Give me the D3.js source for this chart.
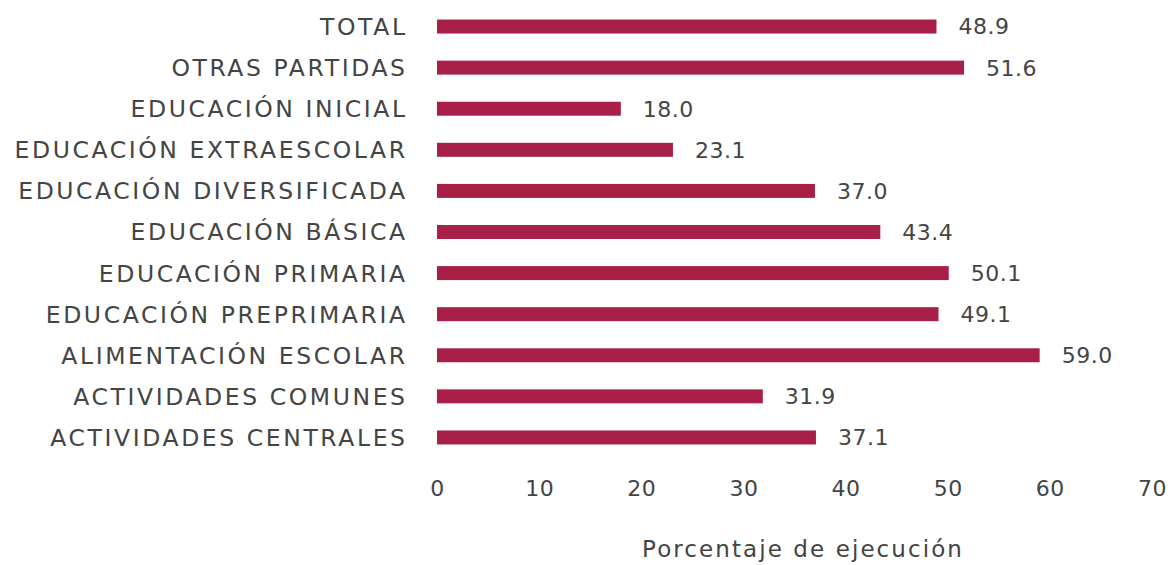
<!DOCTYPE html>
<html>
<head>
<meta charset="utf-8">
<script src="https://cdn.jsdelivr.net/npm/d3@7"></script>
<style>
  body { margin: 0; background: #fff; }
  text { font-family: "DejaVu Sans", sans-serif; fill: #444; }
</style>
</head>
<body>
<div id="chart"></div>
<script>
// categories top to bottom
const categories = [
  "TOTAL",
  "OTRAS PARTIDAS",
  "EDUCACIÓN INICIAL",
  "EDUCACIÓN EXTRAESCOLAR",
  "EDUCACIÓN DIVERSIFICADA",
  "EDUCACIÓN BÁSICA",
  "EDUCACIÓN PRIMARIA",
  "EDUCACIÓN PREPRIMARIA",
  "ALIMENTACIÓN ESCOLAR",
  "ACTIVIDADES COMUNES",
  "ACTIVIDADES CENTRALES"
];
const values = [48.9, 51.6, 18.0, 23.1, 37.0, 43.4, 50.1, 49.1, 59.0, 31.9, 37.1];
const xTicks = [0, 10, 20, 30, 40, 50, 60, 70];
const axisTitle = "Porcentaje de ejecución";

var w = 1173,
  h = 565;

var svg = d3.select("#chart")
  .append("svg")
  .attr("width", w)
  .attr("height", h);

var x = d3.scaleLinear()
  .domain([0, 70])
  .range([437, 1152]);

var y = d3.scaleBand()
  .domain(categories)
  .range([6, 458])
  .paddingInner(0.66)
  .paddingOuter(0.33);

// letter spacing so a text reaches the target width (reference font is wider)
function spreadTo(sel, target) {
  var n = sel.text().length;
  var natural = sel.node().getComputedTextLength();
  return (target - natural) / n;
}

svg.append("g")
  .selectAll("rect")
  .data(values)
  .enter()
  .append("rect")
  .attr("x", x(0))
  .attr("y", (d, i) => y(categories[i]))
  .attr("width", d => x(d) - x(0))
  .attr("height", y.bandwidth())
  .attr("fill", "#a81f48");

// value labels
svg.append("g")
  .selectAll("text")
  .data(values)
  .enter()
  .append("text")
  .attr("x", d => x(d) + 22)
  .attr("y", (d, i) => y(categories[i]) + y.bandwidth() / 2)
  .attr("dy", "0.36em")
  .attr("font-size", 22)
  .attr("letter-spacing", 0.5)
  .text(d => d.toFixed(1));

// category labels
var catLabels = svg.append("g")
  .selectAll("text")
  .data(categories)
  .enter()
  .append("text")
  .attr("y", d => y(d) + y.bandwidth() / 2)
  .attr("dy", "0.36em")
  .attr("text-anchor", "end")
  .attr("font-size", 23.5)
  .text(d => d);
var catSpacing = spreadTo(catLabels.filter(d => d === "EDUCACIÓN EXTRAESCOLAR"), 393);
// trailing spacing pushes end-anchored text left, so shift back
catLabels.attr("letter-spacing", catSpacing)
  .attr("x", 405 + catSpacing);

// x axis, no line
var xAxis = svg.append("g")
  .attr("transform", "translate(0,480)")
  .call(d3.axisBottom(x).tickValues(xTicks).tickSize(0).tickPadding(0));
xAxis.select(".domain").remove();
xAxis.selectAll("text")
  .attr("font-size", 22)
  .attr("font-family", "DejaVu Sans, sans-serif")
  .attr("fill", "#444")
  .attr("letter-spacing", 0.5);

var title = svg.append("text")
  .attr("y", 557)
  .attr("text-anchor", "middle")
  .attr("font-size", 23)
  .text(axisTitle);
var titleSpacing = spreadTo(title, 322);
title.attr("letter-spacing", titleSpacing)
  .attr("x", 802 + titleSpacing / 2);
</script>
</body>
</html>
